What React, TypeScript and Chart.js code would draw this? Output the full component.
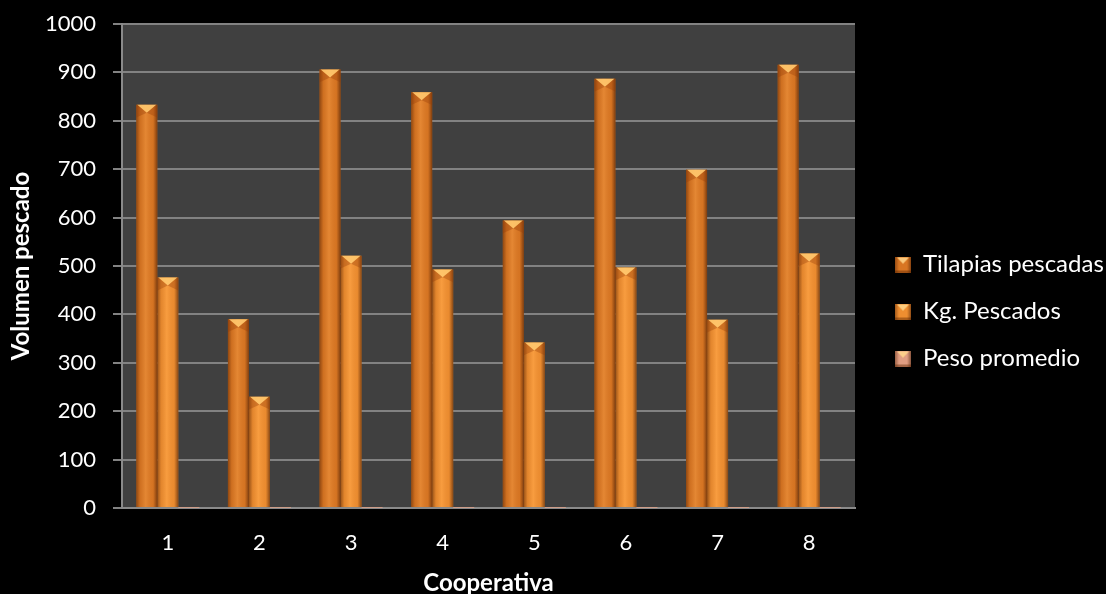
import { useEffect, useRef } from "react";
import { Chart, registerables } from "chart.js";

Chart.register(...registerables);

// Catch per cooperative
const cooperativas = ["1", "2", "3", "4", "5", "6", "7", "8"];
const tilapiasPescadas = [833, 390, 906, 859, 594, 887, 699, 916];
const kgPescados = [476, 230, 521, 493, 342, 497, 389, 526];
const pesoPromedio = [0.57, 0.59, 0.57, 0.57, 0.58, 0.56, 0.56, 0.57];

const seriesNames = ["Tilapias pescadas", "Kg. Pescados", "Peso promedio"];
const seriesColors = ["#E07B25", "#F79433", "#E8A489"];

const yMin = 0;
const yMax = 1000;
const yStep = 100;

const FONT = "Lato, 'Open Sans', sans-serif";

// Small bevelled square used as the legend marker
function makeSwatch(color: string, size = 16): HTMLCanvasElement {
  const c = document.createElement("canvas");
  c.width = size;
  c.height = size;
  const g = c.getContext("2d")!;
  g.fillStyle = color;
  g.fillRect(0, 0, size, size);
  const sh = g.createLinearGradient(0, 0, size, 0);
  sh.addColorStop(0, "rgba(80,30,0,0.5)");
  sh.addColorStop(0.25, "rgba(80,30,0,0.05)");
  sh.addColorStop(0.75, "rgba(80,30,0,0.05)");
  sh.addColorStop(1, "rgba(60,20,0,0.55)");
  g.fillStyle = sh;
  g.fillRect(0, 0, size, size);
  g.fillStyle = "rgba(255,215,140,0.85)";
  g.beginPath();
  g.moveTo(2, 1);
  g.lineTo(size - 2, 1);
  g.lineTo(size / 2, size * 0.45);
  g.closePath();
  g.fill();
  g.fillStyle = "rgba(90,35,0,0.45)";
  g.fillRect(0, size - 2, size, 2);
  return c;
}

// Dark plot background behind the bars
const plotBackground = {
  id: "plotBackground",
  beforeDraw(chart: any) {
    const { ctx, chartArea } = chart;
    ctx.save();
    ctx.fillStyle = "#404040";
    ctx.fillRect(chartArea.left, chartArea.top, chartArea.right - chartArea.left, chartArea.bottom - chartArea.top);
    ctx.restore();
  },
};

// Shading and bevelled top on each bar, using the bar elements' own geometry
const barBevel = {
  id: "barBevel",
  afterDatasetsDraw(chart: any) {
    const { ctx, chartArea } = chart;
    ctx.save();
    ctx.beginPath();
    ctx.rect(chartArea.left, chartArea.top, chartArea.right - chartArea.left, chartArea.bottom - chartArea.top);
    ctx.clip();
    chart.data.datasets.forEach((_ds: any, di: number) => {
      const meta = chart.getDatasetMeta(di);
      if (meta.hidden) return;
      meta.data.forEach((el: any) => {
        const { x, y, base, width } = el.getProps(["x", "y", "base", "width"], true);
        const L = x - width / 2;
        const R = x + width / 2;
        const h = base - y;
        if (h < 3) return;
        // horizontal cylinder-like shading
        const g = ctx.createLinearGradient(L, 0, R, 0);
        g.addColorStop(0, "rgba(80,30,0,0.55)");
        g.addColorStop(0.18, "rgba(80,30,0,0.12)");
        g.addColorStop(0.45, "rgba(255,210,140,0.14)");
        g.addColorStop(0.8, "rgba(80,30,0,0.08)");
        g.addColorStop(1, "rgba(60,20,0,0.6)");
        ctx.fillStyle = g;
        ctx.fillRect(L, y, width, h);
        // bevelled top
        const b = Math.min(width * 0.38, h / 2);
        ctx.fillStyle = "rgba(255,200,110,0.9)";
        ctx.beginPath();
        ctx.moveTo(L + 1, y);
        ctx.lineTo(R - 1, y);
        ctx.lineTo(x, y + b);
        ctx.closePath();
        ctx.fill();
        ctx.fillStyle = "rgba(150,60,10,0.35)";
        ctx.beginPath();
        ctx.moveTo(L, y);
        ctx.lineTo(L + 1, y);
        ctx.lineTo(x, y + b);
        ctx.lineTo(L, y + b * 1.6);
        ctx.closePath();
        ctx.fill();
        ctx.beginPath();
        ctx.moveTo(R, y);
        ctx.lineTo(R - 1, y);
        ctx.lineTo(x, y + b);
        ctx.lineTo(R, y + b * 1.6);
        ctx.closePath();
        ctx.fill();
      });
    });
    ctx.restore();
  },
};

export default function App() {
  const canvasRef = useRef<HTMLCanvasElement | null>(null);

  useEffect(() => {
    if (!canvasRef.current) return;
    const chart = new Chart(canvasRef.current, {
      type: "bar",
      data: {
        labels: cooperativas,
        datasets: [tilapiasPescadas, kgPescados, pesoPromedio].map((values, i) => ({
          label: seriesNames[i],
          data: values,
          backgroundColor: seriesColors[i],
          borderWidth: 0,
          pointStyle: makeSwatch(seriesColors[i]),
          categoryPercentage: 0.688,
          barPercentage: 1,
        })),
      },
      options: {
        animation: false,
        responsive: true,
        maintainAspectRatio: false,
        layout: { padding: { top: 24, right: 0, bottom: 0, left: 0 } },
        plugins: {
          tooltip: { enabled: false },
          legend: {
            position: "right",
            maxWidth: 234,
            title: { display: true, text: " ", font: { size: 5, lineHeight: 1 }, padding: 0, color: "#000" },
            labels: {
              color: "#FFFFFF",
              font: { family: FONT, size: 24, lineHeight: 1 },
              usePointStyle: true,
              boxWidth: 16,
              boxHeight: 16,
              padding: 23,
            },
          },
        },
        scales: {
          x: {
            grid: { display: false },
            border: { display: true, color: "#8A8A8A", width: 2 },
            ticks: { color: "#FFFFFF", font: { family: FONT, size: 22 }, padding: 14 },
            title: {
              display: true,
              text: "Cooperativa",
              color: "#FFFFFF",
              font: { family: FONT, size: 24, weight: "bold", lineHeight: 0.9 },
              padding: 0,
            },
            afterFit: (s: any) => {
              s.height = 86;
            },
          },
          y: {
            min: yMin,
            max: yMax,
            ticks: {
              stepSize: yStep,
              color: "#FFFFFF",
              font: { family: FONT, size: 22 },
              padding: 17,
              callback: (v: any) => String(v),
            },
            grid: { color: "#828282", lineWidth: 2, tickLength: 9 },
            border: { display: true, color: "#8A8A8A", width: 2 },
            title: {
              display: true,
              text: "Volumen pescado",
              color: "#FFFFFF",
              font: { family: FONT, size: 24, weight: "bold", lineHeight: 0.9 },
              padding: { top: 10, bottom: 0 },
            },
            afterFit: (s: any) => {
              s.width = 122;
              s.paddingTop = 0;
            },
          },
          gap: {
            position: "right",
            display: false,
            afterFit: (s: any) => {
              s.width = 17;
            },
          },
        },
      },
      plugins: [plotBackground, barBevel],
    } as any);
    return () => chart.destroy();
  }, []);

  return (
    <div style={{ position: "fixed", left: 0, top: 0, width: 1106, height: 594, background: "#000" }}>
      <canvas ref={canvasRef} />
    </div>
  );
}
